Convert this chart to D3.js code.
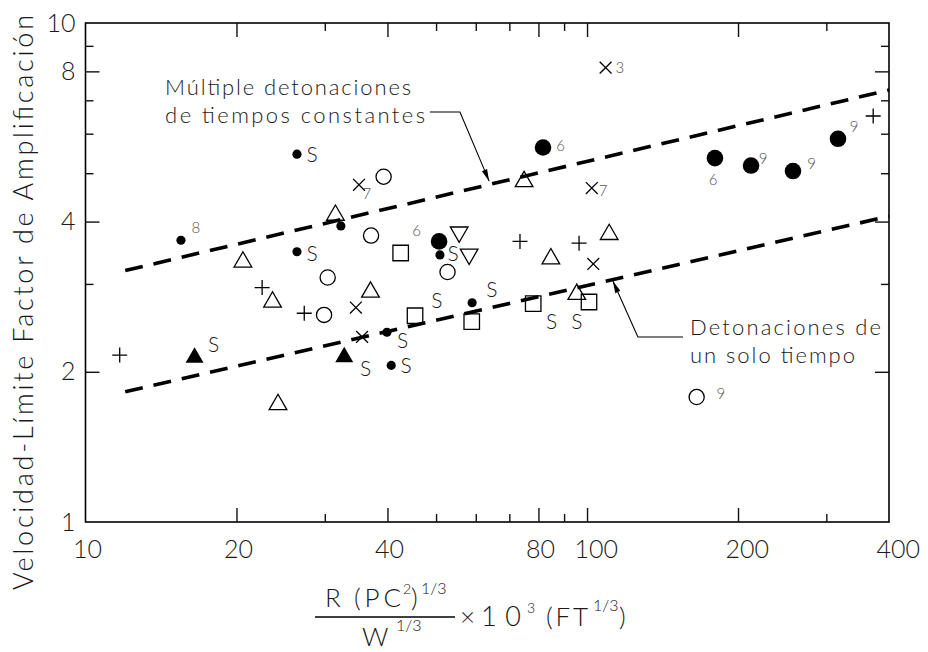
<!DOCTYPE html>
<html>
<head>
<meta charset="utf-8">
<script src="https://cdn.jsdelivr.net/npm/d3@7"></script>
<style>
  body { margin: 0; background: #fff; }
  text { font-family: Lato, "Open Sans", sans-serif; font-weight: 300; fill: #1a1a1a; }
</style>
</head>
<body>
<script>
// tamaño del svg
let width = 928;
let height = 652;

let margin = { top: 23, right: 39, bottom: 130, left: 85.5 };

// datos: [x, y]
let smallDots = [[15.5, 3.67], [26.4, 5.46], [26.4, 3.48], [32.3, 3.92], [50.9, 3.43], [59.0, 2.75], [39.9, 2.40], [40.7, 2.06]];
let bigDots = [[50.7, 3.65], [81.7, 5.63], [179.9, 5.36], [212.3, 5.18], [257.4, 5.05], [316.5, 5.86]];
let filledTriangles = [[16.5, 2.135], [32.8, 2.14]];
let openTriangles = [[31.5, 4.12], [20.6, 3.32], [23.6, 2.76], [24.2, 1.72], [37.0, 2.89], [74.9, 4.81], [84.7, 3.37], [110.7, 3.77], [95.4, 2.86]];
let downTriangles = [[55.6, 3.81], [58.2, 3.44]];
let openCircles = [[39.3, 4.92], [37.1, 3.75], [30.4, 3.09], [29.9, 2.60], [52.7, 3.17], [165.4, 1.78]];
let squares = [[42.5, 3.46], [45.4, 2.59], [58.9, 2.52], [78.1, 2.74], [100.9, 2.76]];
let plusses = [[11.7, 2.16], [22.5, 2.95], [27.3, 2.62], [73.5, 3.65], [96.4, 3.62], [372, 6.51]];
let crosses = [[35.1, 4.74], [34.6, 2.69], [35.6, 2.35], [108.9, 8.14], [102.2, 4.67], [102.9, 3.29]];

// etiquetas junto a los puntos
let sNotes = [[28.3, 5.46], [28.3, 3.46], [54.1, 3.455], [64.6, 2.92], [42.9, 2.31], [43.6, 2.055], [50.2, 2.78], [85.0, 2.52], [95.4, 2.52], [18.0, 2.27], [36.2, 2.035]];
let digitNotes = [
  { t: '8', x: 16.6, y: 3.89 }, { t: '6', x: 45.75, y: 3.835 }, { t: '6', x: 88.6, y: 5.67 },
  { t: '6', x: 178.3, y: 4.85 }, { t: '9', x: 224.3, y: 5.36 }, { t: '9', x: 280.5, y: 5.22 },
  { t: '9', x: 340.6, y: 6.20 }, { t: '9', x: 184.9, y: 1.805 },
  { t: '7', x: 36.4, y: 4.56 }, { t: '3', x: 116.3, y: 8.14 }, { t: '7', x: 107.6, y: 4.61 },
];

// rectas de tendencia
let multiLine = [[12, 3.19], [400, 7.34]];
let singleLine = [[12, 1.824], [400, 4.10]];

// ejes
let xMajor = [20, 40, 80, 100, 200];
let xMinor = [30, 50, 60, 70, 90, 300];
let xLabels = [10, 20, 40, 80, 100, 200, 400];
let yMajor = [2, 4, 8];
let yMinor = [3, 5, 6, 7, 9];
let yLabels = [1, 2, 4, 8, 10];

// flechas de las notas
let arrowUpper = [[48.6, 6.63], [55.8, 6.63], [63.8, 4.82]];
let arrowLower = [[155.4, 2.348], [126.3, 2.348], [112.6, 3.04]];

let x = d3.scaleLog().domain([10, 400]).range([margin.left, width - margin.right]);
let y = d3.scaleLog().domain([1, 10]).range([height - margin.bottom, margin.top]);

let svg = d3.select('body').append('svg')
  .attr('width', width)
  .attr('height', height);

svg.append('defs').append('marker')
  .attr('id', 'head')
  .attr('markerUnits', 'userSpaceOnUse')
  .attr('markerWidth', 14).attr('markerHeight', 8)
  .attr('viewBox', '-13 -4 14 8')
  .attr('refX', 0).attr('refY', 0)
  .attr('orient', 'auto')
  .append('path')
  .attr('d', 'M0,0L-12,-2.8L-12,2.8Z')
  .attr('fill', '#000');

let plotBottom = y.range()[0], plotTop = y.range()[1];
let plotLeft = x.range()[0], plotRight = x.range()[1];

// marco
svg.append('rect')
  .attr('x', plotLeft).attr('y', plotTop)
  .attr('width', plotRight - plotLeft)
  .attr('height', plotBottom - plotTop)
  .attr('fill', 'none').attr('stroke', '#000').attr('stroke-width', 1.6);

function ticks(axis, values, size, tr) {
  svg.append('g')
    .attr('transform', tr)
    .call(axis.tickValues(values).tickSize(size).tickFormat(''))
    .call(g => g.select('.domain').remove())
    .call(g => g.selectAll('line').attr('stroke', '#111').attr('stroke-width', 1.4));
}
ticks(d3.axisTop(x), xMajor, 14, `translate(0,${plotBottom})`);
ticks(d3.axisTop(x), xMinor, 8, `translate(0,${plotBottom})`);
ticks(d3.axisBottom(x), xMajor, 14, `translate(0,${plotTop})`);
ticks(d3.axisBottom(x), xMinor, 8, `translate(0,${plotTop})`);
ticks(d3.axisRight(y), yMajor, 14, `translate(${plotLeft},0)`);
ticks(d3.axisRight(y), yMinor, 8, `translate(${plotLeft},0)`);
ticks(d3.axisLeft(y), yMajor, 14, `translate(${plotRight},0)`);
ticks(d3.axisLeft(y), yMinor, 8, `translate(${plotRight},0)`);

// etiquetas de ejes
svg.append('g')
  .attr('transform', `translate(0,${plotBottom})`)
  .call(d3.axisBottom(x).tickValues(xLabels).tickSize(0).tickPadding(18).tickFormat(d3.format('d')))
  .call(g => g.select('.domain').remove())
  .call(g => g.selectAll('text')
    .attr('font-size', 25).attr('font-family', null).attr('fill', '#1a1a1a')
    .attr('text-anchor', 'start').attr('dx', -13));

svg.append('g')
  .attr('transform', `translate(${plotLeft},0)`)
  .call(d3.axisLeft(y).tickValues(yLabels).tickSize(0).tickPadding(10).tickFormat(d3.format('d')))
  .call(g => g.select('.domain').remove())
  .call(g => g.selectAll('text')
    .attr('font-size', 25).attr('font-family', null).attr('fill', '#1a1a1a'));

// rectas discontinuas
let line = d3.line().x(d => x(d[0])).y(d => y(d[1]));
[multiLine, singleLine].forEach(l => {
  svg.append('path')
    .datum(l)
    .attr('d', line)
    .attr('fill', 'none')
    .attr('stroke', '#000')
    .attr('stroke-width', 3.6)
    .attr('stroke-dasharray', '18,11');
});

// símbolos
let plusType = { draw(ctx, size) { let r = Math.sqrt(size) / 2; ctx.moveTo(-r, 0); ctx.lineTo(r, 0); ctx.moveTo(0, -r); ctx.lineTo(0, r); } };
let crossType = { draw(ctx, size) { let r = Math.sqrt(size) / 2; ctx.moveTo(-r, -r); ctx.lineTo(r, r); ctx.moveTo(r, -r); ctx.lineTo(-r, r); } };

function marks(data, type, size, fill, rot) {
  svg.append('g').selectAll('path')
    .data(data)
    .join('path')
    .attr('transform', d => `translate(${x(d[0])},${y(d[1])})` + (rot ? ' rotate(180)' : ''))
    .attr('d', d3.symbol().type(type).size(size))
    .attr('fill', fill ? '#000' : 'none')
    .attr('stroke', fill ? 'none' : '#000')
    .attr('stroke-width', 1.3);
}
marks(smallDots, d3.symbolCircle, 66, true);
marks(bigDots, d3.symbolCircle, 216, true);
marks(filledTriangles, d3.symbolTriangle, 140, true);
marks(openTriangles, d3.symbolTriangle, 135, false);
marks(downTriangles, d3.symbolTriangle, 135, false, true);
marks(openCircles, d3.symbolCircle, 181, false);
marks(squares, d3.symbolSquare, 240, false);
marks(plusses, plusType, 225, false);
marks(crosses, crossType, 140, false);

svg.append('g').selectAll('text')
  .data(sNotes)
  .join('text')
  .attr('x', d => x(d[0])).attr('y', d => y(d[1]))
  .attr('text-anchor', 'middle').attr('dy', '0.36em')
  .attr('font-size', 21)
  .text('S');

svg.append('g').selectAll('text')
  .data(digitNotes)
  .join('text')
  .attr('x', d => x(d.x)).attr('y', d => y(d.y))
  .attr('text-anchor', 'middle').attr('dy', '0.36em')
  .attr('font-size', 15)
  .style('fill', '#555')
  .text(d => d.t);

// notas
svg.append('text').attr('x', x(14.41)).attr('y', y(7.175))
  .attr('font-size', 22).attr('textLength', 246).text('Múltiple detonaciones');
svg.append('text').attr('x', x(14.41)).attr('y', y(7.175) + 28)
  .attr('font-size', 22).attr('textLength', 260).text('de tiempos constantes');
svg.append('text').attr('x', x(160.4)).attr('y', y(2.37))
  .attr('font-size', 22).attr('textLength', 191).text('Detonaciones de');
svg.append('text').attr('x', x(160.4)).attr('y', y(2.37) + 28)
  .attr('font-size', 22).attr('textLength', 165).text('un solo tiempo');

[arrowUpper, arrowLower].forEach(a => {
  svg.append('path')
    .datum(a)
    .attr('d', line)
    .attr('fill', 'none')
    .attr('stroke', '#000')
    .attr('stroke-width', 1.1)
    .attr('marker-end', 'url(#head)');
});

// título del eje y
svg.append('text')
  .attr('transform', 'translate(33,590) rotate(-90)')
  .attr('font-size', 27)
  .attr('textLength', 575)
  .text('Velocidad-Límite Factor de Amplificación');

// título del eje x (fracción)
function piece(px, py, size, str, len) {
  let t = svg.append('text').attr('x', px).attr('y', py).attr('font-size', size).text(str);
  if (len) t.attr('textLength', len);
}
piece(325, 607, 26, 'R');
piece(354, 607, 26, '(PC', 47);
piece(403, 594, 14, '2');
piece(411, 607, 26, ')');
piece(421, 594, 16, '1/3');
piece(362, 646, 26, 'W');
piece(396, 631, 16, '1/3');

svg.append('line')
  .attr('x1', 315).attr('x2', 455).attr('y1', 617).attr('y2', 617)
  .attr('stroke', '#000').attr('stroke-width', 1.4);

piece(460, 626, 26, '×');
piece(481, 626, 27, '10', 40);
piece(527, 613, 14, '3');
piece(546, 626, 26, '(FT', 42);
piece(593, 611, 16, '1/3');
piece(619, 626, 26, ')');
</script>
</body>
</html>
